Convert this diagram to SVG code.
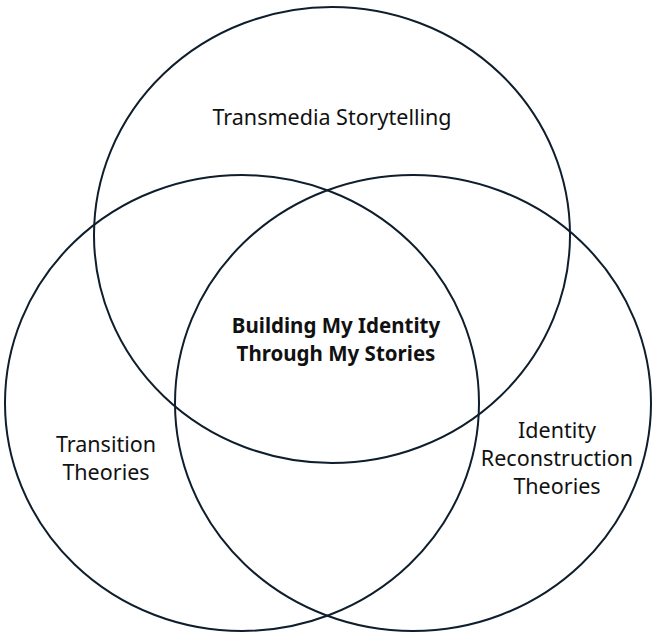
<svg xmlns="http://www.w3.org/2000/svg" width="668" height="637" viewBox="0 0 668 637">
<style>
.c{fill:none;stroke:#0f1e2c;stroke-width:2}
.t{font-family:"Noto Sans","Open Sans",sans-serif;font-size:21.5px;fill:#111;text-anchor:middle}
.b{font-weight:bold;font-size:20.5px}
</style>
<rect width="668" height="637" fill="#fff"/>
<g id="connectors"/>
<g id="top"><ellipse class="c" cx="332" cy="235" rx="238" ry="228"/>
<text class="t" x="332" y="125">Transmedia Storytelling</text></g>
<g id="left"><ellipse class="c" cx="242" cy="403" rx="237" ry="228"/>
<text class="t" x="106" y="452">Transition</text><text class="t" x="106" y="480">Theories</text></g>
<g id="right"><ellipse class="c" cx="413" cy="403" rx="238" ry="228"/>
<text class="t" x="557" y="438">Identity</text><text class="t" x="557" y="466">Reconstruction</text><text class="t" x="557" y="494">Theories</text></g>
<g id="center"><text class="t b" x="336" y="333">Building My Identity</text><text class="t b" x="336" y="361">Through My Stories</text></g>
</svg>
